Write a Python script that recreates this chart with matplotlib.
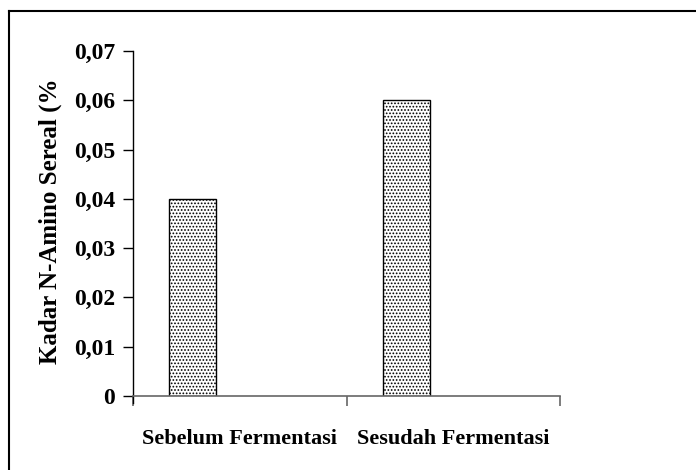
import numpy as np
import matplotlib.pyplot as plt
from matplotlib.lines import Line2D
from matplotlib.transforms import Bbox

plt.rcParams['font.family'] = ['Liberation Serif', 'DejaVu Serif']
plt.rcParams['hatch.linewidth'] = 0.8
plt.rcParams['hatch.color'] = '#777777'

# data
kategori = ['Sebelum Fermentasi', 'Sesudah Fermentasi']
kadar = [0.04, 0.06]
yticks = [0, 0.01, 0.02, 0.03, 0.04, 0.05, 0.06, 0.07]
ylabels = ['0', '0,01', '0,02', '0,03', '0,04', '0,05', '0,06', '0,07']

fig = plt.figure(figsize=(6.96, 4.70), dpi=100)
ax = fig.add_axes([133/696, 1-396/470, 427/696, 345/470])

# spines first (set_position resets ticks)
for s in ['top', 'right']:
    ax.spines[s].set_visible(False)
ax.spines['left'].set_position(('data', 0))
ax.spines['left'].set_linewidth(1.0)
ax.spines['left'].set_bounds(-0.0015, 0.07)
ax.spines['bottom'].set_color('#666666')
ax.spines['bottom'].set_linewidth(1.2)

x = np.arange(len(kategori))
ax.bar(x + 0.28, kadar, width=0.22, color='white', edgecolor='black',
       linewidth=1.0, hatch='.....')

ax.set_xlim(0, 2)
ax.set_ylim(0, 0.07)
ax.set_yticks(yticks)
ax.set_yticklabels(ylabels, fontsize=17, fontweight='bold')
ax.set_xticks([0, 1, 2])
ax.set_xticklabels([])
ax.set_xticks(x + 0.5, minor=True)
ax.set_xticklabels(kategori, minor=True, fontsize=16, fontweight='bold')
ax.tick_params(axis='x', which='minor', length=0, pad=24)
ax.tick_params(axis='x', which='major', length=7, color='#666666', width=1.2)
ax.tick_params(axis='y', length=7, width=1.0, pad=6)

# y label, clipped at top like the source
t = fig.text(50/696, 1-217/470, 'Kadar N-Amino Sereal (%)', rotation=90,
             ha='center', va='center', fontsize=18, fontweight='bold')
t.set_clip_box(Bbox([[0, 0], [696, 470-80]]))
t.set_clip_on(True)

# outer frame (only left and top edge visible)
fig.add_artist(Line2D([8.5/696, 8.5/696], [0, 1-11/470], color='black',
                      linewidth=1.5, transform=fig.transFigure))
fig.add_artist(Line2D([8.5/696, 1], [1-11/470, 1-11/470], color='black',
                      linewidth=1.5, transform=fig.transFigure))

fig.savefig('out.png', dpi=100)
